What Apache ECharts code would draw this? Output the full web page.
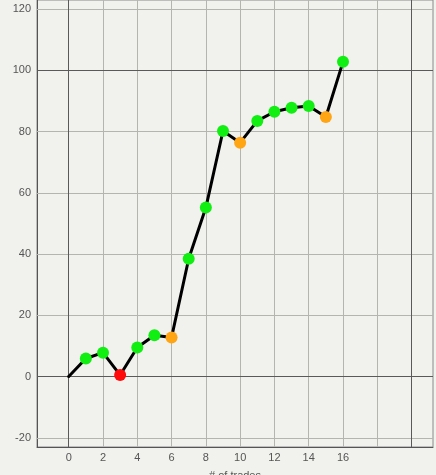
<!DOCTYPE html>
<html><head><meta charset="utf-8">
<script src="https://cdn.jsdelivr.net/npm/echarts@6/dist/echarts.min.js"></script>
<style>html,body{margin:0;padding:0;background:#f1f1ed;}#c{width:436px;height:475px;}</style>
</head><body><div id="c"></div>
<script>
const trades = [0,1,2,3,4,5,6,7,8,9,10,11,12,13,14,15,16];
const values = [0,5.9,7.8,0.5,9.5,13.5,12.8,38.5,55.2,80.2,76.4,83.5,86.5,87.8,88.4,84.8,102.8];
const status = ['start','good','good','bad','good','good','warn','good','good','good','warn','good','good','good','good','warn','good'];
const xTicks = [0,2,4,6,8,10,12,14,16];
const xGrid = [2,4,6,8,10,12,14,16,18];
const xRef = [0,20];
const yTicks = [-20,0,20,40,60,80,100,120];
const yGrid = [-20,20,40,60,80,120];
const yRef = [0,100];

const colorMap = {good:'#11ee11', warn:'#ffa514', bad:'#ff0a0a', start:'#000000'};
const chart = echarts.init(document.getElementById('c'));
const light = {color:'#b5b5b0', width:1, type:'solid'};
const dark = {color:'#5a5a5a', width:1, type:'solid'};
const gridLines = [].concat(
  xGrid.map(v=>({xAxis:v, lineStyle:light})),
  yGrid.map(v=>({yAxis:v, lineStyle:light})),
  xRef.map(v=>({xAxis:v, lineStyle:dark})),
  yRef.map(v=>({yAxis:v, lineStyle:dark}))
);
chart.setOption({
  backgroundColor:'#f1f1ed',
  animation:false,
  grid:{left:37, right:3, top:0, bottom:28, containLabel:false, outerBoundsMode:'none', show:true, borderColor:'#8a8a8a', borderWidth:1, backgroundColor:'transparent'},
  xAxis:{type:'value', min:-1.85, max:21.25,
    name:'# of trades', nameLocation:'middle', nameGap:23,
    nameTextStyle:{color:'#555', fontSize:11, fontFamily:'Liberation Sans'},
    axisLine:{show:true, onZero:false, lineStyle:{color:'#555'}},
    axisTick:{show:false},
    splitLine:{show:false},
    axisLabel:{customValues:xTicks, color:'#555', fontSize:11, fontFamily:'Liberation Sans', margin:5}
  },
  yAxis:{type:'value', min:-23, max:123,
    axisLine:{show:true, onZero:false, lineStyle:{color:'#555'}},
    axisTick:{show:false},
    splitLine:{show:false},
    axisLabel:{customValues:yTicks, color:'#555', fontSize:11, fontFamily:'Liberation Sans', margin:6}
  },
  series:[{
    type:'line',
    data: trades.map((t,i)=>({value:[t, values[i]],
      symbolSize: status[i]==='start'?3:12,
      itemStyle:{color:colorMap[status[i]], borderWidth:0}})),
    symbol:'circle',
    lineStyle:{color:'#000', width:3},
    z:5,
    markLine:{silent:true, symbol:['none','none'], label:{show:false}, animation:false, data:gridLines, z:1}
  }]
});
</script></body></html>
